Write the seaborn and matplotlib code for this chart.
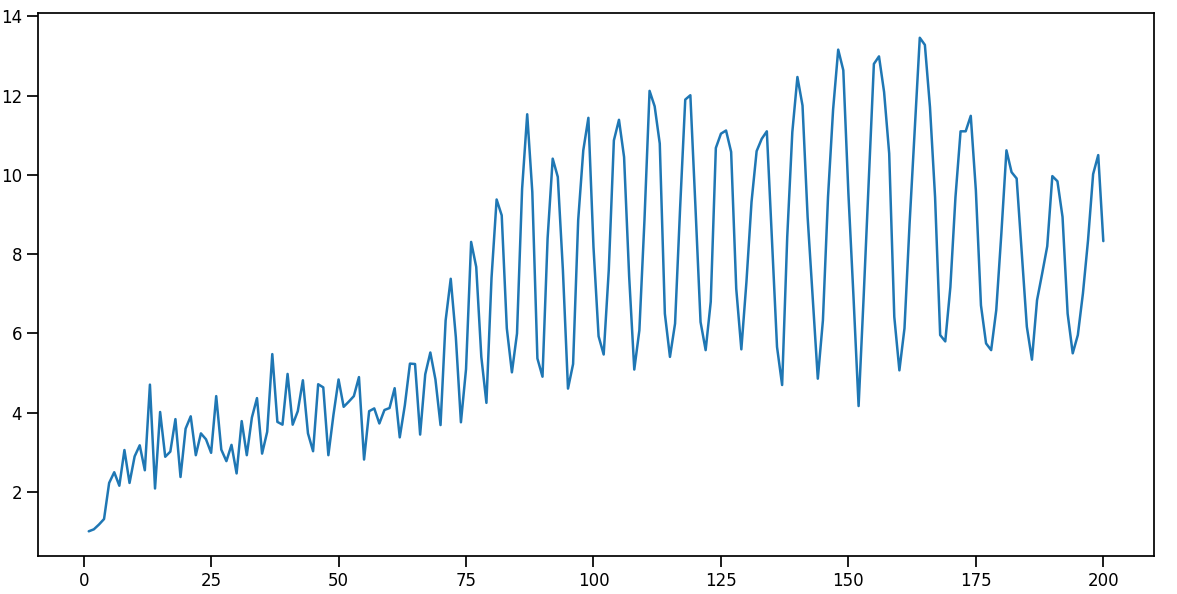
import numpy as np
import pandas as pd
import matplotlib
matplotlib.use('Agg')
import matplotlib.pyplot as plt
import seaborn as sns

# wartosci, x = 1..200
steps = np.arange(1, 201)
values = [
    1.01, 1.06, 1.18, 1.32, 2.23, 2.50, 2.16, 3.06, 2.23, 2.90,
    3.18, 2.55, 4.71, 2.09, 4.02, 2.89, 3.02, 3.84, 2.38, 3.60,
    3.91, 2.93, 3.48, 3.33, 2.99, 4.42, 3.07, 2.78, 3.19, 2.47,
    3.79, 2.93, 3.88, 4.37, 2.97, 3.52, 5.48, 3.77, 3.70, 4.98,
    3.70, 4.04, 4.82, 3.48, 3.03, 4.72, 4.64, 2.93, 3.95, 4.84,
    4.15, 4.28, 4.42, 4.90, 2.82, 4.04, 4.11, 3.73, 4.07, 4.12,
    4.62, 3.38, 4.19, 5.24, 5.23, 3.45, 4.97, 5.52, 4.84, 3.69,
    6.33, 7.38, 5.91, 3.76, 5.10, 8.31, 7.68, 5.41, 4.25, 7.40,
    9.38, 8.98, 6.13, 5.02, 6.00, 9.65, 11.53, 9.57, 5.37, 4.91,
    8.40, 10.41, 9.95, 7.60, 4.61, 5.23, 8.86, 10.62, 11.44, 8.18,
    5.93, 5.47, 7.60, 10.87, 11.39, 10.45, 7.43, 5.09, 6.08, 8.86,
    12.12, 11.73, 10.79, 6.50, 5.41, 6.25, 9.19, 11.90, 12.01, 9.19,
    6.29, 5.58, 6.80, 10.68, 11.04, 11.12, 10.58, 7.13, 5.60, 7.30,
    9.32, 10.60, 10.91, 11.10, 8.40, 5.66, 4.70, 8.43, 11.08, 12.47,
    11.75, 8.94, 6.92, 4.86, 6.33, 9.44, 11.65, 13.16, 12.64, 9.53,
    6.92, 4.17, 6.95, 9.86, 12.80, 12.99, 12.09, 10.54, 6.42, 5.07,
    6.13, 8.77, 11.12, 13.46, 13.28, 11.71, 9.44, 5.96, 5.80, 7.17,
    9.44, 11.10, 11.10, 11.49, 9.61, 6.71, 5.75, 5.58, 6.59, 8.52,
    10.62, 10.07, 9.91, 8.02, 6.17, 5.34, 6.84, 7.51, 8.20, 9.97,
    9.84, 8.94, 6.50, 5.50, 5.96, 7.01, 8.35, 10.02, 10.50, 8.33,
]

df = pd.DataFrame({'x': steps, 'y': values})

sns.set_theme(style='white', context='notebook')
plt.rcParams['font.family'] = ['DejaVu Sans']

fig, ax = plt.subplots(figsize=(11.77, 5.94), dpi=100)
sns.lineplot(data=df, x='x', y='y', ax=ax, color='#1f77b4', linewidth=1.8)

for s in ax.spines.values():
    s.set_color('black')
    s.set_linewidth(1.25)
ax.tick_params(axis='both', which='major', bottom=True, left=True,
               length=8, width=1.25, color='black', labelcolor='black',
               labelsize=12)
ax.set_xlabel('')
ax.set_ylabel('')
ax.set_xticks([0, 25, 50, 75, 100, 125, 150, 175, 200])
ax.set_yticks([2, 4, 6, 8, 10, 12, 14])

fig.subplots_adjust(left=0.0323, right=0.9805, top=0.978, bottom=0.064)
plt.savefig('out.png', dpi=100)
plt.close()
